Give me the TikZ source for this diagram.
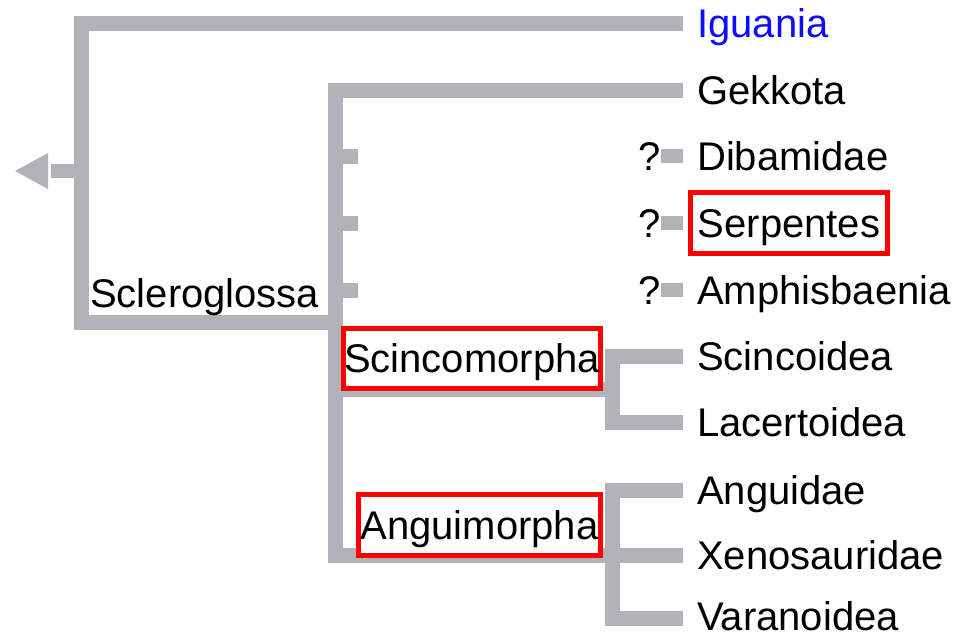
\documentclass[tikz,border=0pt]{standalone}
\usepackage{fontspec}
\setmainfont{Liberation Sans}
\definecolor{branch}{RGB}{179,178,184}
\definecolor{hilite}{RGB}{255,0,0}
\definecolor{iglink}{RGB}{12,12,255}
\begin{document}
\begin{tikzpicture}[x=1pt,y=-1pt,
  branchline/.style={draw=branch,line width=15pt,line cap=butt,line join=miter},
  dashline/.style={draw=branch,line width=14pt,line cap=butt},
  taxon/.style={anchor=base west,inner sep=0pt,font=\fontsize{40}{41}\selectfont},
  redbox/.style={draw=hilite,line width=5pt,fill=white,inner sep=0pt,
    text height=28pt,text depth=0pt,font=\fontsize{40}{41}\selectfont}]
\fill[white] (0,0) rectangle (957,638);
\useasboundingbox (0,0) rectangle (957,638);

% junction / tip coordinates
\coordinate (root) at (81,171);
\coordinate (stubL) at (51,171);
\coordinate (outerBot) at (81,322.5);
\coordinate (outerEnd) at (335,322.5);
\coordinate (tIgu) at (683,23.5);
\coordinate (tGek) at (683,90);
\coordinate (innerBot) at (335,555.5);
\coordinate (tXen) at (683,555.5);
\coordinate (sA) at (335,156);
\coordinate (sAe) at (358,156);
\coordinate (sB) at (335,223);
\coordinate (sBe) at (358,223);
\coordinate (sC) at (335,290);
\coordinate (sCe) at (358,290);
\coordinate (scJ) at (335,389.5);
\coordinate (scK) at (612.5,389.5);
\coordinate (tSci) at (683,356);
\coordinate (scBot) at (612.5,422);
\coordinate (tLac) at (683,422);
\coordinate (tAng) at (683,490);
\coordinate (anBot) at (612.5,618);
\coordinate (tVar) at (683,618);
\coordinate (dA) at (661,156);
\coordinate (dAe) at (683,156);
\coordinate (dB) at (661,223);
\coordinate (dBe) at (683,223);
\coordinate (dC) at (661,290);
\coordinate (dCe) at (683,290);

% root arrow
\fill[branch] (15,171) -- (48,153) -- (48,189) -- cycle;
\draw[dashline] (stubL) -- (root);

% tree branches
\draw[branchline] (tIgu) -| (outerBot) -- (outerEnd);
\draw[branchline] (tGek) -| (innerBot) -- (tXen);
\draw[branchline] (sA) -- (sAe);
\draw[branchline] (sB) -- (sBe);
\draw[branchline] (sC) -- (sCe);
\draw[branchline] (scJ) -- (scK);
\draw[branchline] (tSci) -| (scBot) -- (tLac);
\draw[branchline] (tAng) -| (anBot) -- (tVar);
\draw[dashline] (dA) -- (dAe);
\draw[dashline] (dB) -- (dBe);
\draw[dashline] (dC) -- (dCe);

% labels
\node[taxon,text=iglink] (iguania) at (697,37.5) {Iguania};
\node[taxon] (gekkota) at (697,104) {Gekkota};
\node[taxon] (dibamidae) at (697,170) {Dibamidae};
\node[taxon] (amphis) at (697,304) {Amphisbaenia};
\node[taxon] (scincoidea) at (697,370) {Scincoidea};
\node[taxon] (lacertoidea) at (697,436) {Lacertoidea};
\node[taxon] (anguidae) at (697,504) {Anguidae};
\node[taxon] (xenosauridae) at (697,569.5) {Xenosauridae};
\node[taxon] (varanoidea) at (697,630) {Varanoidea};
\node[taxon] (qA) at (638,170) {?};
\node[taxon] (qB) at (638,237) {?};
\node[taxon] (qC) at (638,304) {?};
\node[taxon] (sclero) at (90,307) {Scleroglossa};

% highlighted boxes
\node[redbox,minimum width=197pt,minimum height=61pt] (serpentes) at (789,223) {Serpentes};
\node[redbox,minimum width=257pt,minimum height=60pt] (scincomorpha) at (472,358.5) {Scincomorpha};
\node[redbox,minimum width=242pt,minimum height=61pt] (anguimorpha) at (479.5,525) {Anguimorpha};
\end{tikzpicture}
\end{document}
